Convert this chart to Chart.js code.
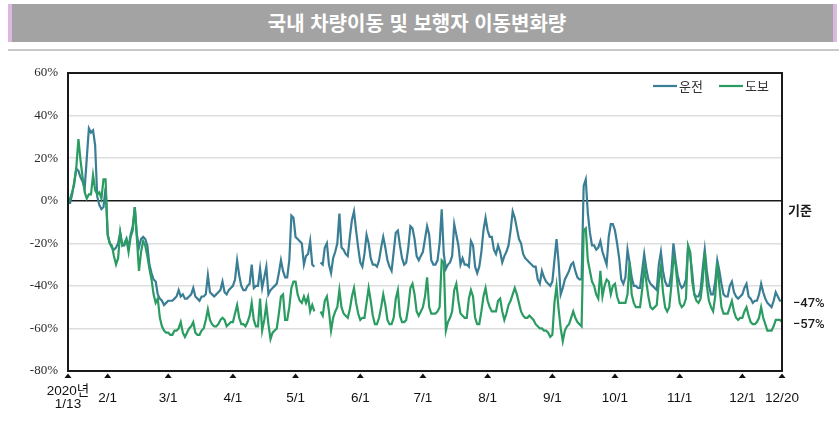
<!DOCTYPE html>
<html lang="ko">
<head>
<meta charset="utf-8">
<script src="https://cdn.jsdelivr.net/npm/chart.js@4.4.1/dist/chart.umd.min.js"></script>
<style>
  html, body { margin: 0; padding: 0; background: #fff; }
  body { width: 839px; height: 424px; position: relative; overflow: hidden; }
  #titleBar {
    position: absolute; left: 8px; top: 4px; width: 821px; height: 38px;
    background: #a3a3a3; border-left: 4px solid #dcb8e0; border-right: 4px solid #dcb8e0;
  }
  #titleBar span {
    position: absolute; left: 405px; top: 18px; transform: translate(-50%, -50%);
    color: #fff; font: bold 20px "Noto Sans CJK KR", sans-serif; white-space: nowrap;
  }
  #rule { position: absolute; left: 8px; top: 49px; width: 831px; height: 2px; background: #c9c9c9; }
  #chart { position: absolute; left: 0; top: 0; }
</style>
</head>
<body>
<canvas id="chart" width="839" height="424"></canvas>
<div id="titleBar"><span>국내 차량이동 및 보행자 이동변화량</span></div>
<div id="rule"></div>
<script>
// daily change vs. 2020-01-13 baseline (%), one row per week (Mon..Sun), 1/13 .. 12/20
const driving = [
  -1, -1, 3, 9, 15, 14, 11,
  9, 6, 20, 34, 32, 33, 26,
  2, -2, -4, -3, 6, -16, -20,
  -22, -23, -22, -20, -15, -21, -21,
  -18, -22, -16, -12, -3, -16, -22,
  -18, -17, -18, -21, -30, -34, -37,
  -38, -44, -46, -47, -49, -48, -47,
  -47, -47, -46, -45, -42, -45, -44,
  -46, -46, -45, -44, -41, -45, -46,
  -47, -45, -45, -44, -35, -43, -44,
  -45, -44, -43, -42, -38, -43, -44,
  -42, -41, -40, -37, -28, -35, -40,
  -42, -42, -40, -39, -30, -41, -40,
  -40, -32, -41, -36, -31, -44, -42,
  -41, -40, -39, -34, -28, -33, -36,
  -36, -28, -7, -8, -17, -18, -19,
  -20, -30, -26, -25, -19, -30, -31,
  null, null, -29, -30, -22, -20, -30,
  -34, -27, -24, -20, -6, -22, -23,
  -25, -26, -17, -9, -5, -14, -22,
  -29, -31, -25, -16, -20, -27, -30,
  -30, -31, -28, -22, -17, -22, -28,
  -31, -33, -24, -15, -14, -21, -27,
  -30, -29, -22, -12, -13, -18, -26,
  -28, -26, -24, -18, -12, -16, -28,
  -30, -30, -28, -20, -4, -25, -32,
  -30, -29, -26, -11, -16, -21, -30,
  -27, -30, -30, -31, -19, -21, -31,
  -34, -31, -24, -14, -8, -14, -17,
  -17, -23, -25, -21, -24, -29, -26,
  -24, -21, -14, -5, -8, -13, -18,
  -20, -25, -27, -28, -29, -30, -31,
  -31, -37, -39, -33, -36, -38, -39,
  -40, -38, -28, -18, -29, -44, -41,
  -37, -35, -33, -30, -29, -33, -36,
  -37, -37, 7, 10, -6, -15, -21,
  -21, -23, -22, -19, -24, -27, -30,
  -17, -11, -11, -14, -20, -27, -37,
  -39, -36, -23, -29, -36, -40, -40,
  -41, -41, -33, -25, -32, -37, -39,
  -40, -41, -42, -30, -24, -33, -38,
  -40, -40, -34, -20, -28, -35, -39,
  -41, -40, -37, -22, -25, -34, -44,
  -45, -45, -42, -32, -23, -33, -40,
  -44, -44, -38, -28, -33, -39, -44,
  -45, -45, -40, -38, -43, -45, -46,
  -45, -44, -41, -39, -45, -46, -48,
  -47, -47, -44, -39, -43, -46, -48,
  -49, -50, -47, -43, -45, -47, -47
];
const walking = [
  -1, 1, 4, 8, 16, 29, 19,
  11, 4, 1, 3, 3, 12, 5,
  3, 4, 1, 10, 10, -16, -20,
  -21, -26, -30, -27, -15, -21, -20,
  -18, -24, -17, -14, -3, -18, -33,
  -24, -19, -21, -26, -32, -37, -44,
  -48, -46, -55, -59, -61, -62, -62,
  -63, -63, -61, -61, -60, -57, -62,
  -64, -62, -60, -59, -57, -62, -63,
  -63, -61, -60, -56, -51, -56, -58,
  -59, -59, -58, -56, -55, -56, -59,
  -58, -57, -57, -53, -49, -55, -58,
  -58, -59, -57, -54, -48, -56, -59,
  -59, -46, -61, -56, -49, -58, -65,
  -62, -61, -60, -53, -45, -44, -56,
  -56, -50, -41, -38, -38, -44, -47,
  -48, -45, -48, -45, -52, -49, -52,
  null, null, -52, -54, -47, -45, -52,
  -61, -55, -52, -50, -42, -50, -53,
  -54, -55, -51, -45, -41, -48, -53,
  -56, -55, -55, -48, -41, -47, -54,
  -58, -58, -55, -50, -44, -49, -56,
  -58, -58, -55, -46, -42, -54, -57,
  -57, -56, -50, -41, -39, -44, -52,
  -54, -52, -50, -45, -36, -50, -53,
  -53, -53, -52, -50, -28, -29, -61,
  -57, -55, -52, -42, -39, -47, -53,
  -54, -55, -55, -46, -42, -45, -55,
  -58, -58, -52, -45, -41, -47, -50,
  -52, -52, -52, -47, -46, -52, -56,
  -53, -49, -47, -44, -41, -44, -48,
  -52, -54, -55, -55, -54, -55, -56,
  -58, -59, -60, -60, -61, -61, -62,
  -64, -63, -48, -40, -51, -60, -66,
  -61, -59, -58, -55, -52, -55, -57,
  -58, -59, -14, -13, -28, -33, -38,
  -40, -44, -46, -33, -45, -40, -37,
  -38, -44, -40, -39, -45, -48, -48,
  -48, -48, -44, -29, -44, -48, -50,
  -50, -50, -42, -31, -38, -45, -50,
  -51, -50, -49, -38, -31, -43, -50,
  -52, -50, -40, -27, -30, -40, -48,
  -50, -49, -46, -21, -24, -38, -44,
  -47, -48, -46, -38, -24, -40, -47,
  -50, -52, -45, -29, -40, -50, -53,
  -53, -53, -50, -47, -52, -55, -56,
  -55, -55, -52, -50, -54, -57, -58,
  -58, -57, -55, -50, -55, -58, -61,
  -61, -61, -59, -56, -56, -56, -57
];

// x positions are days since 1/13
const tickDays = [0, 19, 48, 79, 109, 140, 170, 201, 232, 262, 293, 323, 342];
const tickLabels = [['2020년', '1/13'], '2/1', '3/1', '4/1', '5/1', '6/1', '7/1',
  '8/1', '9/1', '10/1', '11/1', '12/1', '12/20'];
const seriesNames = ['운전', '도보'];
const seriesColors = ['#3a7e95', '#2a9c61'];
const baseLabel = '기준';

const toPoints = arr => arr.map((y, x) => ({ x, y }));

const decorations = {
  id: 'decorations',
  afterDraw(chart) {
    const { ctx, chartArea: a, scales: { x, y } } = chart;
    ctx.save();

    // plot frame
    ctx.strokeStyle = '#1a1a1a';
    ctx.lineWidth = 2;
    ctx.strokeRect(a.left, a.top, a.right - a.left, a.bottom - a.top);

    // date markers + labels
    ctx.fillStyle = '#111';
    ctx.font = '13.5px "Liberation Sans", "Noto Sans CJK KR", sans-serif';
    ctx.textAlign = 'center';
    ctx.textBaseline = 'middle';
    x.ticks.forEach(t => {
      const px = x.getPixelForValue(t.value);
      ctx.beginPath();
      ctx.moveTo(px, a.bottom + 2.5);
      ctx.lineTo(px - 3.5, a.bottom + 7);
      ctx.lineTo(px + 3.5, a.bottom + 7);
      ctx.closePath();
      ctx.fill();
      const lbl = tickLabels[tickDays.indexOf(t.value)];
      if (Array.isArray(lbl)) {
        ctx.fillText(lbl[0], px, a.bottom + 20);
        ctx.fillText(lbl[1], px, a.bottom + 33);
      } else {
        ctx.fillText(lbl, px, a.bottom + 27);
      }
    });

    // legend (top right, inside the frame)
    ctx.font = '13px "Noto Sans CJK KR", sans-serif';
    ctx.textAlign = 'left';
    ctx.lineWidth = 2.2;
    const legendX = [653, 719];
    chart.data.datasets.forEach((ds, i) => {
      const lx = legendX[i], ly = a.top + 13;
      ctx.strokeStyle = ds.borderColor;
      ctx.beginPath();
      ctx.moveTo(lx, ly);
      ctx.lineTo(lx + 24, ly);
      ctx.stroke();
      ctx.fillStyle = '#333';
      ctx.fillText(ds.label, lx + 26, ly);
    });

    // right side notes
    ctx.fillStyle = '#1a1a1a';
    ctx.font = 'bold 13px "Noto Sans CJK KR", sans-serif';
    ctx.fillText(baseLabel, a.right + 6, y.getPixelForValue(0) + 9.5);
    ctx.font = '500 13px Roboto, "Liberation Sans", sans-serif';
    [driving, walking].forEach(arr => {
      const last = arr[arr.length - 1];
      ctx.fillText('\u2212' + Math.abs(last) + '%', a.right + 11, y.getPixelForValue(last) + 3);
    });

    ctx.restore();
  }
};

new Chart(document.getElementById('chart'), {
  type: 'line',
  data: {
    datasets: [
      {
        label: seriesNames[0],
        data: toPoints(driving),
        borderColor: seriesColors[0],
        borderWidth: 2.2,
        pointRadius: 0,
        tension: 0,
        spanGaps: false,
        order: 1
      },
      {
        label: seriesNames[1],
        data: toPoints(walking),
        borderColor: seriesColors[1],
        borderWidth: 2.2,
        pointRadius: 0,
        tension: 0,
        spanGaps: false,
        order: 0
      }
    ]
  },
  options: {
    responsive: false,
    animation: false,
    devicePixelRatio: 1,
    layout: { padding: { left: 0, top: 73, right: 57, bottom: 0 } },
    plugins: { legend: { display: false }, tooltip: { enabled: false } },
    scales: {
      x: {
        type: 'linear',
        min: 0,
        max: 342,
        afterBuildTicks: scale => { scale.ticks = tickDays.map(v => ({ value: v })); },
        afterFit: scale => { scale.height = 53; },
        ticks: { display: false },
        grid: { display: false },
        border: { display: false }
      },
      y: {
        min: -80,
        max: 60,
        afterFit: scale => { scale.width = 68; },
        ticks: {
          stepSize: 20,
          padding: 10,
          color: '#2a2a2a',
          font: { family: '"Liberation Serif", "DejaVu Serif", serif', size: 13 },
          callback: v => v + '%'
        },
        grid: {
          drawTicks: false,
          color: c => (c.tick && c.tick.value === 0 ? '#1a1a1a' : '#dedede'),
          lineWidth: c => (c.tick && c.tick.value === 0 ? 1.6 : 1.5)
        },
        border: { display: false }
      }
    }
  },
  plugins: [decorations]
});
</script>
</body>
</html>
